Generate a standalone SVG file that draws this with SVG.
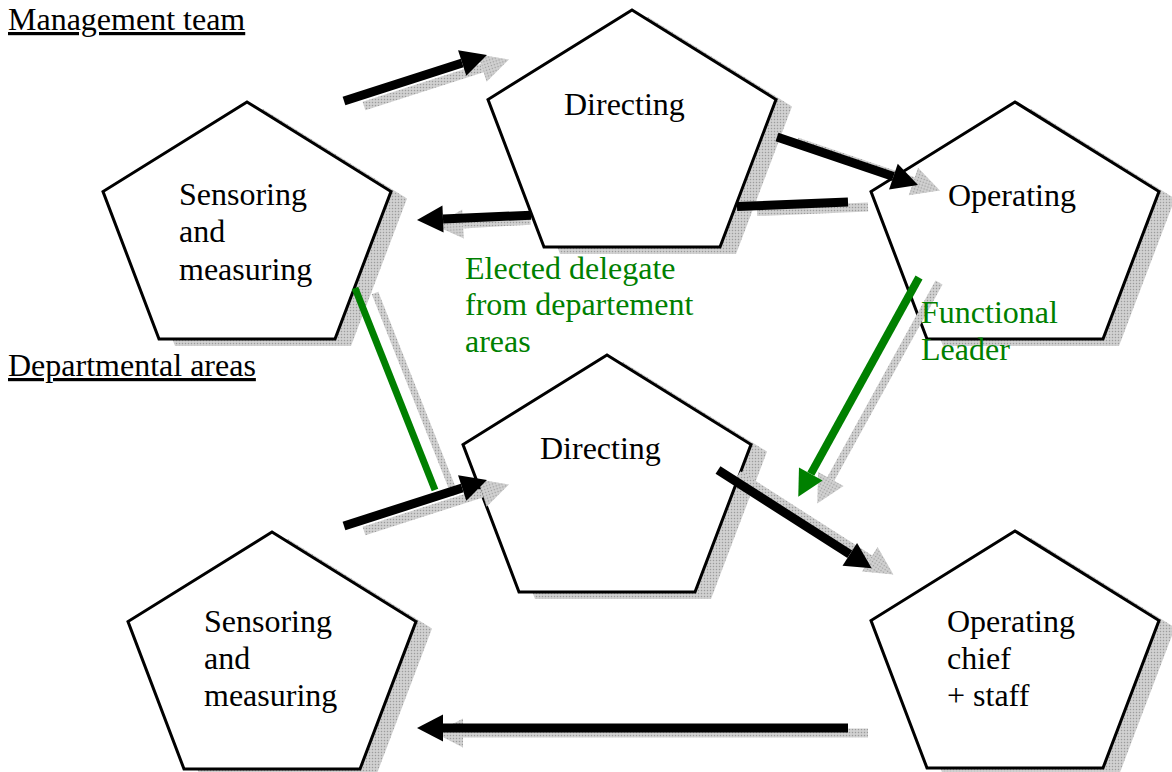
<svg xmlns="http://www.w3.org/2000/svg" xmlns:xlink="http://www.w3.org/1999/xlink" width="1172" height="772" viewBox="0 0 1172 772">
<style>
text{font-family:"Liberation Serif","Times New Roman",serif;font-size:32px;fill:#000}
.g{fill:#008000}
.u{text-decoration:underline}
.pent{fill:#fff;stroke:#000;stroke-width:3;stroke-linejoin:miter}
.psh{fill:url(#dots);stroke:none}
.blk{stroke:#000;stroke-width:9;fill:none;stroke-linecap:butt}
.grn{stroke:#008000;stroke-width:8;fill:none;stroke-linecap:butt}
.sh{stroke:url(#dots);stroke-width:9;fill:none;stroke-linecap:butt}
</style>
<defs>
<pattern id="dots" width="3" height="3" patternUnits="userSpaceOnUse">
<rect width="3" height="3" fill="#c8c8c8"/>
<rect width="1" height="1" fill="#9c9c9c"/>
<rect x="1.5" y="1.5" width="1" height="1" fill="#ececec"/>
</pattern>
<path id="pent" d="M0,0 L144,89.5 L88,237 L-88,237 L-144,89.5 Z"/>
<marker id="hk" markerUnits="userSpaceOnUse" markerWidth="30" markerHeight="30" refX="0" refY="0" orient="auto" overflow="visible"><path d="M0,-13.5 L26,0 L0,13.5 Z" fill="#000"/></marker>
<marker id="hg" markerUnits="userSpaceOnUse" markerWidth="30" markerHeight="30" refX="0" refY="0" orient="auto" overflow="visible"><path d="M0,-13.5 L26,0 L0,13.5 Z" fill="#008000"/></marker>
<marker id="hs" markerUnits="userSpaceOnUse" markerWidth="30" markerHeight="30" refX="0" refY="0" orient="auto" overflow="visible"><path d="M0,-14.5 L28,0 L0,14.5 Z" fill="url(#dots)"/></marker>
</defs>
<rect width="1172" height="772" fill="#fff"/>

<g id="label-management">
<text x="8" y="30" class="u">Management team</text>
</g>
<g id="label-departmental">
<text x="8" y="376" class="u">Departmental areas</text>
</g>

<g id="node-sensoring-top">
<use xlink:href="#pent" x="263" y="109" class="psh"/>
<use xlink:href="#pent" x="247" y="102" class="pent"/>
<text x="179" y="205">Sensoring</text>
<text x="179" y="242">and</text>
<text x="179" y="280">measuring</text>
</g>

<g id="node-directing-top">
<use xlink:href="#pent" x="648" y="17" class="psh"/>
<use xlink:href="#pent" x="632" y="10" class="pent"/>
<text x="564" y="115">Directing</text>
</g>

<g id="node-operating-top">
<use xlink:href="#pent" x="1031" y="109" class="psh"/>
<use xlink:href="#pent" x="1015" y="102" class="pent"/>
<text x="948" y="206">Operating</text>
</g>

<g id="node-directing-bottom">
<use xlink:href="#pent" x="623" y="362" class="psh"/>
<use xlink:href="#pent" x="607" y="355" class="pent"/>
<text x="540" y="459">Directing</text>
</g>

<g id="node-sensoring-bottom">
<use xlink:href="#pent" x="288" y="539" class="psh"/>
<use xlink:href="#pent" x="272" y="532" class="pent"/>
<text x="204" y="632">Sensoring</text>
<text x="204" y="669">and</text>
<text x="204" y="706">measuring</text>
</g>

<g id="node-operating-chief">
<use xlink:href="#pent" x="1031" y="538" class="psh"/>
<use xlink:href="#pent" x="1015" y="531" class="pent"/>
<text x="947" y="632">Operating</text>
<text x="947" y="669">chief</text>
<text x="947" y="706">+ staff</text>
</g>

<g id="connectors">
<!-- shadows -->
<path class="sh" d="M364,106 L482.2,68" marker-end="url(#hs)"/>
<path class="sh" d="M797,142 L913.4,181.6" marker-end="url(#hs)"/>
<path class="sh" d="M868,207 L757,211.6"/>
<path class="sh" d="M530.5,220.2 L463,223.9" marker-end="url(#hs)"/>
<path class="sh" d="M364,531 L482.2,493" marker-end="url(#hs)"/>
<path class="sh" d="M738,475 L869.8,559.3" marker-end="url(#hs)"/>
<path class="sh" d="M868,733 L463,733" marker-end="url(#hs)"/>
<path class="sh" style="stroke-width:8" d="M939,282.5 L830.8,478.9" marker-end="url(#hs)"/>
<path class="sh" style="stroke-width:7" d="M375,293 L455,495"/>
<!-- main -->
<path class="grn" style="stroke-width:7" d="M355,288 L435,490"/>
<path class="blk" d="M344,101 L462.2,63" marker-end="url(#hk)"/>
<path class="blk" d="M777,137 L893.4,176.6" marker-end="url(#hk)"/>
<path class="blk" d="M848,202 L737,206.6"/>
<path class="blk" d="M531,215.2 L443,218.9" marker-end="url(#hk)"/>
<path class="blk" d="M344,526 L462.2,488" marker-end="url(#hk)"/>
<path class="blk" d="M718,470 L849.8,554.3" marker-end="url(#hk)"/>
<path class="blk" d="M848,728 L443,728" marker-end="url(#hk)"/>
<path class="grn" d="M919,277.5 L810.8,473.9" marker-end="url(#hg)"/>
</g>

<g id="label-elected">
<text class="g" x="465" y="279">Elected delegate</text>
<text class="g" x="465" y="315">from departement</text>
<text class="g" x="465" y="352">areas</text>
</g>
<g id="label-functional">
<text class="g" x="921" y="323">Functional</text>
<text class="g" x="921" y="360">Leader</text>
</g>
</svg>
